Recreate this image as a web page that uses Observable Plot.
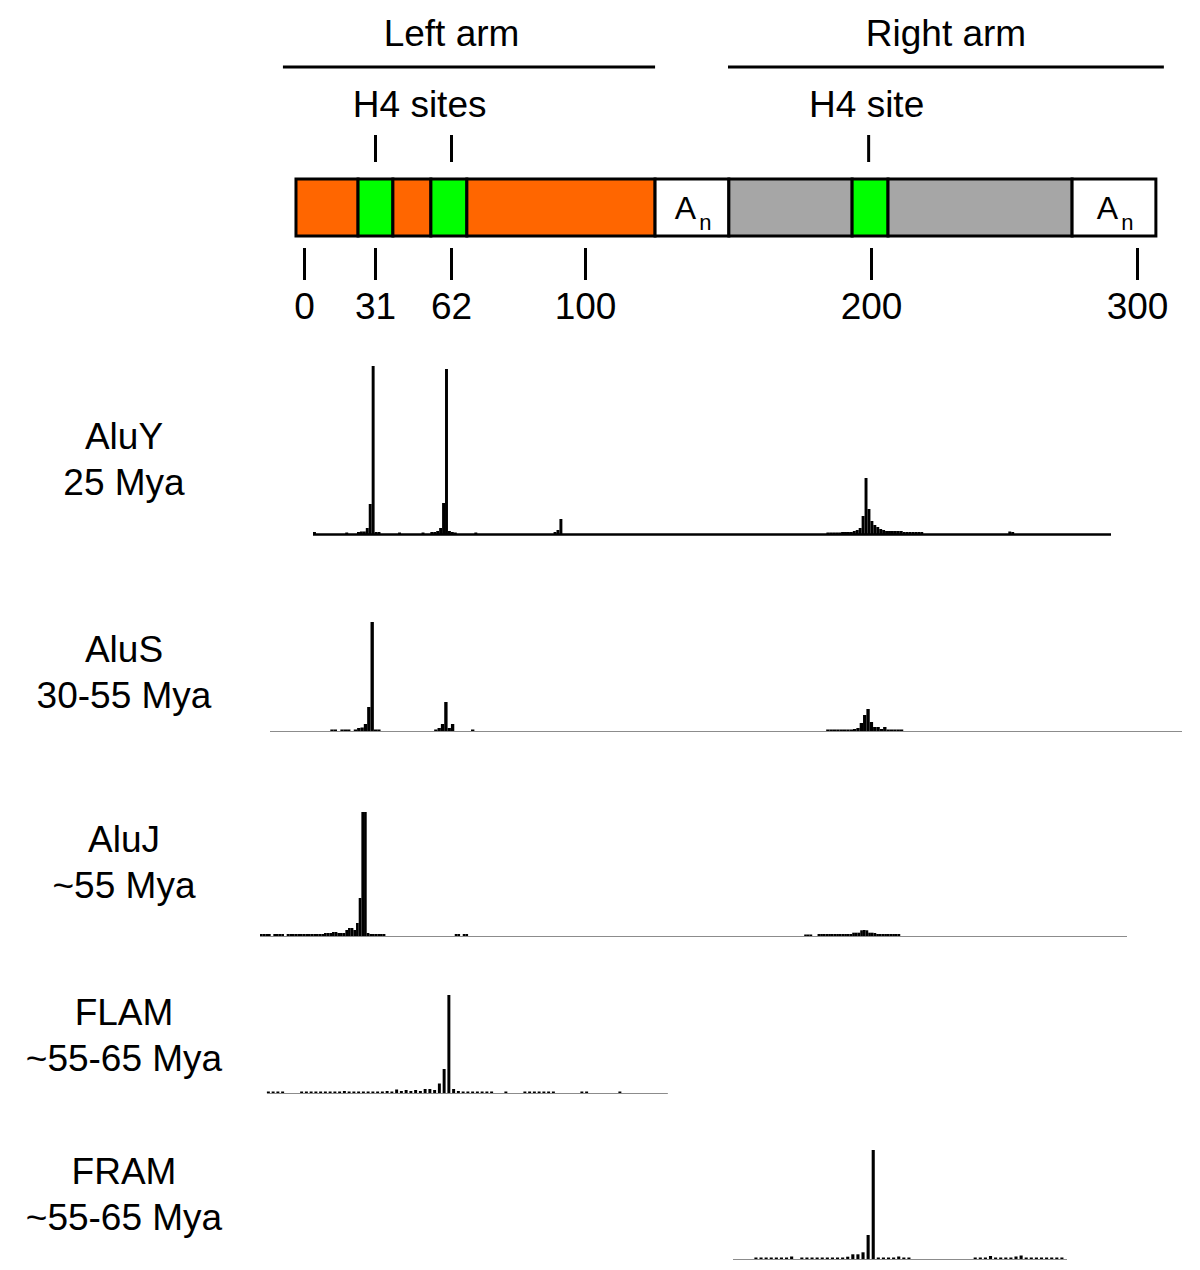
<!DOCTYPE html>
<html>
<head>
<meta charset="utf-8">
<script src="https://cdn.jsdelivr.net/npm/d3@7"></script>
<script src="https://cdn.jsdelivr.net/npm/@observablehq/plot@0.6"></script>
<style>
  html, body { margin: 0; padding: 0; background: #fff; overflow: hidden; }
  #wrap { position: relative; width: 1200px; height: 1270px; font-family: "Liberation Sans", Arial, sans-serif; }
  .panel { position: absolute; left: 0; }
  .label { position: absolute; left: 0; width: 248px; text-align: center; font-size: 37px; line-height: 46px; color: #000; }
</style>
</head>
<body>
<div id="wrap"></div>
<script>
// ---------- schematic (nucleotide positions) ----------
const ntTicks = [0, 31, 62, 100, 200, 300];
const armNames = ["Left arm", "Right arm"];
const armStart = [-9.2, 150.0];
const armEnd = [124.5, 310.1];
const armLabelAt = [62, 228];
const h4Sites = [31, 62, 199];
const h4LabelText = ["H4 sites", "H4 site"];
const h4LabelAt = [49, 198.3];
const segStart = [-3.5, 23.6, 38.3, 53.8, 66.5, 124.5, 150.3, 193.4, 206.4, 275.6];
const segEnd   = [23.6, 38.3, 53.8, 66.5, 124.5, 150.3, 193.4, 206.4, 275.6, 307.1];
const segKind  = ["left", "h4", "left", "h4", "left", "polyA", "right", "h4", "right", "polyA"];

// ---------- histograms: [bin, height] ----------
const aluY = [
  [0,2],[11,1.5],[15,2],[16,2.5],[17,2.5],[18,6],[19,30],[20,168],[21,2],[22,2],[29,1.5],[37,1.5],
  [40,2],[41,2],[42,3],[43,6],[44,31],[45,165],[46,3],[47,2],[48,1.5],[55,1.5],
  [82,2],[83,4],[84,15],
  [175,1.5],[176,1.5],[177,1.5],[178,1.5],[179,1.5],[180,2],[181,2],[182,2],[183,2],[184,3],[185,4],[186,6],
  [187,18],[188,56],[189,25],[190,13],[191,9],[192,7],[193,5],[194,4],[195,3],[196,3],[197,3],[198,3],
  [199,3],[200,3],[201,2],[202,2],[203,2],[204,2],[205,2],[206,2],[207,2],
  [237,2.5],[238,2]
];
const aluS = [
  [18,1.5],[19,1.5],[21,1.5],[22,1.5],[23,1.5],[25,1.5],[26,3],[27,3.5],[28,7],[29,24],[30,109],[31,1.5],[32,1.5],
  [49,1.5],[50,3],[51,7],[52,29],[53,3],[54,7],[60,1.5],
  [166,1.5],[167,1.5],[168,1.5],[169,1.5],[170,1.5],[171,1.5],[172,1.5],[173,1.5],[174,2],[175,3],[176,8],
  [177,16],[178,22],[179,9],[180,4],[181,4],[182,2],[183,4],[184,1.5],[185,1.5],[186,1.5],[187,1.5],[188,1.5]
];
const aluJ = [
  [0,2],[1,2],[2,2],[3,2],[5,2],[6,2],[7,2],[8,2],[10,2],[11,2],[12,2],[13,2],[14,2],[15,2],[16,2],[17,2],
  [18,2],[19,2],[20,2],[21,2],[22,2],[23,2],[24,3],[25,3],[26,3],[27,4],[28,4],[29,3],[30,3],[31,3],
  [32,6],[33,8],[34,8],[35,6],[36,13],[37,38],[38,124],[39,124],[40,3],[41,2],[42,2],[43,2],[44,2],[45,2],[46,2],
  [73,2],[74,2],[76,2],[77,2],
  [204,1.5],[205,1.5],[206,1.5],[209,2],[210,2],[211,2],[212,2],[213,2],[214,2],[215,2],[216,2],[217,2],
  [218,2],[219,2],[220,2],[221,2],[222,3.3],[223,3.3],[224,3.3],[225,5.7],[226,6],[227,5.7],[228,3.3],
  [229,3.3],[230,3],[231,2],[232,2],[233,2],[234,2],[235,2],[236,2],[237,2],[238,2],[239,2]
];
const flam = [
  [0,1.5],[1,1.5],[2,1.5],[3,1.5],[7,1.5],[8,1.5],[9,1.5],[10,1.5],[11,1.5],[12,1.5],[13,1.5],[14,1.5],
  [15,1.5],[16,2],[17,1.5],[18,1.5],[19,1.5],[20,1.5],[21,1.5],[22,1.5],[23,1.5],[24,1.5],[25,2],[26,1.5],
  [27,3.5],[28,2],[29,3],[30,2],[31,3],[32,2],[33,4],[34,4],[35,3],[36,9.5],[37,24],[38,98],[39,4],[40,2],
  [41,1.5],[42,1.5],[43,1.5],[44,1.5],[45,1.5],[46,1.5],[47,1.5],[50,1.5],
  [54,1.5],[55,1.5],[56,1.5],[57,1.5],[58,1.5],[59,1.5],[60,1.5],[66,1.5],[67,1.5],[74,1.5]
];
const fram = [
  [4,1.5],[5,1.5],[6,1.5],[7,1.5],[8,1.5],[9,1.5],[10,1.5],[11,2.5],[13,1.5],[14,1.5],[15,1.5],[16,1.5],
  [17,1.5],[18,1.5],[19,1.5],[20,1.5],[21,1.5],[22,2.3],[23,4.7],[24,4.7],[25,6.7],[26,24],[27,109],
  [28,1.5],[29,1.5],[30,1.5],[31,1.5],[32,2.5],[33,1.5],[34,1.5],
  [47,1.5],[48,1.5],[49,1.5],[50,3],[51,1.5],[52,1.5],[53,1.5],[54,1.5],[55,2.5],[56,3.5],[57,1.5],
  [58,1.5],[59,1.5],[60,1.5],[61,1.5],[62,1.5],[63,1.5],[64,1.5]
];
const panelNames = ["AluY", "AluS", "AluJ", "FLAM", "FRAM"];
const panelAges = ["25 Mya", "30-55 Mya", "~55 Mya", "~55-65 Mya", "~55-65 Mya"];

// ---------- build ----------
const FONT = "'Liberation Sans', Arial, sans-serif";
const wrap = document.getElementById("wrap");

const arms = armNames.map((name, i) => ({name, start: armStart[i], end: armEnd[i], labelAt: armLabelAt[i]}));
const h4Labels = h4LabelText.map((text, i) => ({text, pos: h4LabelAt[i]}));
const segments = segStart.map((s, i) => ({start: s, end: segEnd[i], kind: segKind[i]}));
const polyA = segments.filter(d => d.kind === "polyA");
const kindColor = {left: "#ff6600", right: "#a6a6a6", h4: "#00ff00", polyA: "#ffffff"};

const TOPH = 330, TOPMB = 82;
const schematic = Plot.plot({
  width: 1200, height: TOPH,
  marginTop: 0, marginLeft: 0, marginRight: 0, marginBottom: TOPMB,
  style: {fontFamily: FONT, background: "transparent", overflow: "visible"},
  x: {type: "linear", domain: ntTicks, range: [304, 375, 451, 585, 871, 1137], label: null},
  marks: [
    Plot.rect(arms, {x1: "start", x2: "end", fill: "black", insetTop: 65.5, insetBottom: TOPH - TOPMB - 68.5}),
    Plot.text(arms, {x: "labelAt", text: "name", frameAnchor: "top", lineAnchor: "middle", dy: 34, fontSize: 37, fill: "black"}),
    Plot.text(h4Labels, {x: "pos", text: "text", frameAnchor: "top", lineAnchor: "middle", dy: 105, fontSize: 37, fill: "black"}),
    Plot.ruleX(h4Sites, {x: d => d, stroke: "black", strokeWidth: 3, insetTop: 135, insetBottom: TOPH - TOPMB - 162}),
    Plot.rect(segments, {x1: "start", x2: "end", fill: d => kindColor[d.kind], stroke: "black", strokeWidth: 3,
      insetTop: 179, insetBottom: TOPH - TOPMB - 236}),
    Plot.text(polyA, {x: d => (d.start + d.end) / 2, text: () => "A", frameAnchor: "top", lineAnchor: "middle", dy: 208, dx: -7, fontSize: 32, fill: "black"}),
    Plot.text(polyA, {x: d => (d.start + d.end) / 2, text: () => "n", frameAnchor: "top", lineAnchor: "middle", dy: 222, dx: 13, fontSize: 22, fill: "black"}),
    Plot.axisX({ticks: ntTicks, tickSize: 32, tickPadding: 12, fontSize: 37, strokeWidth: 3, stroke: "black", fill: "black", label: null})
  ]
});
const topDiv = document.createElement("div");
topDiv.className = "panel";
topDiv.style.top = "0px";
topDiv.appendChild(schematic);
wrap.appendChild(topDiv);

function histogram(opts) {
  const {bins, domain, range, baseline, D, base, baseStroke, baseWidth, inset} = opts;
  const MB = 6;
  const chart = Plot.plot({
    width: 1200, height: D + MB,
    marginTop: 0, marginLeft: 0, marginRight: 0, marginBottom: MB,
    style: {background: "transparent", overflow: "visible"},
    x: {type: "linear", domain, range, axis: null},
    y: {type: "linear", domain: [0, D], axis: null},
    marks: [
      Plot.ruleY([0], {x1: base[0], x2: base[1], stroke: baseStroke, strokeWidth: baseWidth}),
      Plot.rectY(bins, {x1: d => d[0], x2: d => d[0] + 1, y: d => d[1], fill: "black", insetLeft: inset, insetRight: inset})
    ]
  });
  const div = document.createElement("div");
  div.className = "panel";
  div.style.top = (baseline - D) + "px";
  div.appendChild(chart);
  wrap.appendChild(div);
}

histogram({bins: aluY, domain: [0, 272], range: [313, 1111], baseline: 534, D: 184, base: [0, 272], baseStroke: "black", baseWidth: 2.5, inset: 0});
histogram({bins: aluS, domain: [0, 272.2], range: [270, 1182], baseline: 731, D: 120, base: [0, 272.2], baseStroke: "#8c8c8c", baseWidth: 1, inset: 0});
histogram({bins: aluJ, domain: [0, 325], range: [260, 1127], baseline: 936, D: 130, base: [0, 325], baseStroke: "#8c8c8c", baseWidth: 1, inset: 0});
histogram({bins: flam, domain: [0, 85], range: [266, 669.75], baseline: 1093, D: 105, base: [0.2, 84.6], baseStroke: "#8c8c8c", baseWidth: 1, inset: 0.9});
histogram({bins: fram, domain: [0, 65.5], range: [733, 1067], baseline: 1259, D: 115, base: [0, 65.5], baseStroke: "#8c8c8c", baseWidth: 1, inset: 1});

// left labels
const labelCenters = [437, 650, 840, 1013, 1172];
panelNames.forEach((name, i) => {
  const d = document.createElement("div");
  d.className = "label";
  d.style.top = (labelCenters[i] - 23) + "px";
  d.innerHTML = name + "<br>" + panelAges[i];
  wrap.appendChild(d);
});
</script>
</body>
</html>
